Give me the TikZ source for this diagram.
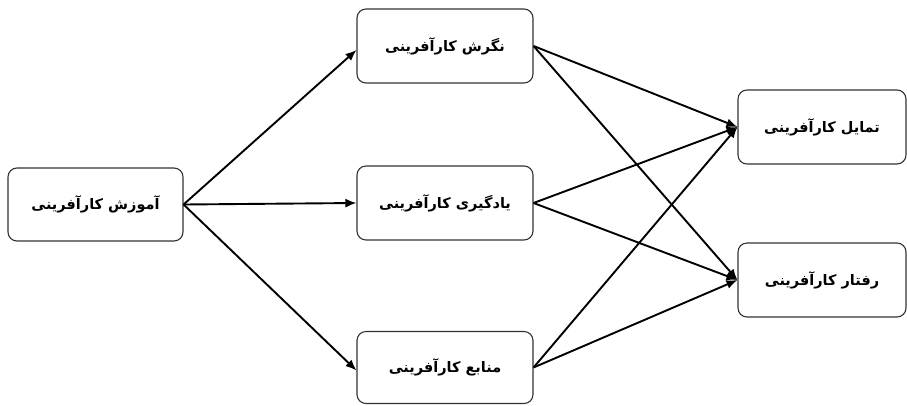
\documentclass[tikz,border=0pt]{standalone}
\usepackage{fontspec}
\TeXXeTstate=1
\newfontfamily\arabicfont[Script=Arabic]{DejaVu Sans}
\usetikzlibrary{arrows.meta}
\begin{document}
\begin{tikzpicture}[x=1pt,y=-1pt,
  box/.style={draw=black!80, line width=1.1pt, rounded corners=9pt, minimum width=175pt, minimum height=73pt, inner sep=0pt, font=\arabicfont\bfseries\fontsize{14.5}{16}\selectfont},
  conn/.style={line width=1.9pt, -{Latex[length=11pt,width=9pt]}}]
\useasboundingbox (0,0) rectangle (907,405);
\node[box] (amuzesh) at (95.5,204.5) {\beginR آموزش کارآفرینی\endR};
\node[box, minimum width=176pt, minimum height=74pt] (negaresh) at (445,46) {\beginR نگرش کارآفرینی\endR};
\node[box, minimum width=176pt, minimum height=74pt] (yadgiri) at (445,203) {\beginR یادگیری کارآفرینی\endR};
\node[box, minimum width=176pt, minimum height=72pt] (manabe) at (445,367.5) {\beginR منابع کارآفرینی\endR};
\node[box, minimum width=168pt, minimum height=74pt] (tamayol) at (822,127) {\beginR تمایل کارآفرینی\endR};
\node[box, minimum width=168pt, minimum height=74pt] (raftar) at (822,280) {\beginR رفتار کارآفرینی\endR};
\draw[conn] (amuzesh.east) -- ([yshift=-4pt]negaresh.west);
\draw[conn] (amuzesh.east) -- (yadgiri.west);
\draw[conn] (amuzesh.east) -- ([yshift=-3pt]manabe.west);
\draw[conn] (negaresh.east) -- (tamayol.west);
\draw[conn] (negaresh.east) -- (raftar.west);
\draw[conn] (yadgiri.east) -- (tamayol.west);
\draw[conn] (yadgiri.east) -- (raftar.west);
\draw[conn] (manabe.east) -- (tamayol.west);
\draw[conn] (manabe.east) -- (raftar.west);
\end{tikzpicture}
\end{document}
